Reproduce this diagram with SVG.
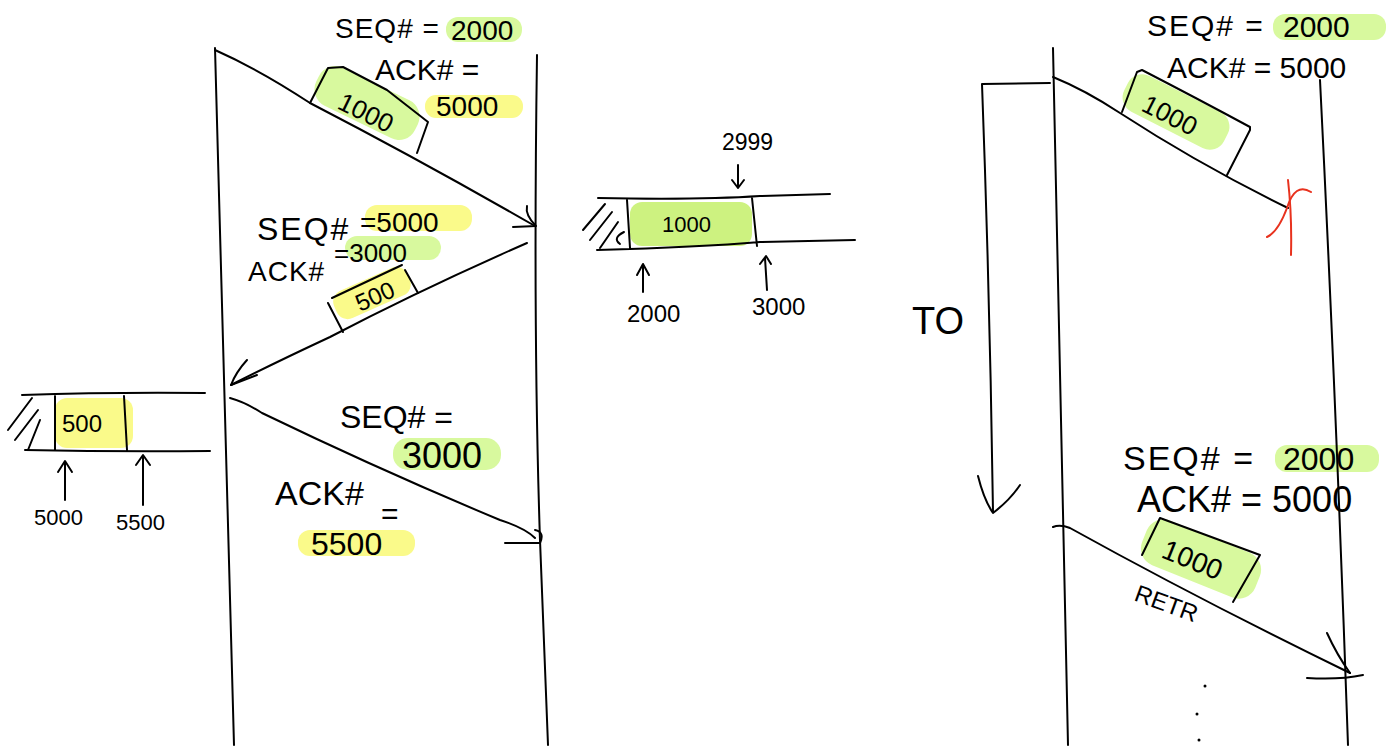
<svg xmlns="http://www.w3.org/2000/svg" width="1393" height="747" viewBox="0 0 1393 747">
<style>
.ln{fill:none;stroke:#000;stroke-width:2;stroke-linecap:round;stroke-linejoin:round}
.red{fill:none;stroke:#e8321e;stroke-width:2;stroke-linecap:round}
.t{font-family:"Liberation Sans",Arial,sans-serif;fill:#000}
.g{fill:#d8f99e}
.gb{fill:#c4f06a;opacity:.85}
.y{fill:#fafa8a}
</style>
<rect width="1393" height="747" fill="#fff"/>

<g id="highlights">
<rect class="g" x="446" y="17" width="76" height="25" rx="12"/>
<rect class="y" x="425" y="95" width="98" height="23" rx="11"/>
<rect class="g" x="312" y="82" width="110" height="42" rx="18" transform="rotate(26 367 103)"/>
<rect class="y" x="365" y="205" width="107" height="26" rx="12"/>
<rect class="g" x="345" y="236" width="96" height="24" rx="12"/>
<rect class="y" x="332" y="278" width="80" height="30" rx="12" transform="rotate(-24 372 293)"/>
<rect class="g" x="393" y="438" width="108" height="32" rx="15"/>
<rect class="y" x="298" y="530" width="117" height="26" rx="12"/>
<rect class="y" x="55" y="398" width="78" height="50" rx="12"/>
<rect class="gb" x="630" y="202" width="122" height="44" rx="12"/>
<rect class="g" x="1273" y="14" width="113" height="26" rx="12"/>
<rect class="g" x="1120" y="92" width="112" height="40" rx="16" transform="rotate(27 1176 112)"/>
<rect class="g" x="1275" y="445" width="104" height="27" rx="12"/>
<rect class="g" x="1140" y="535" width="122" height="48" rx="18" transform="rotate(22 1201 559)"/>
</g>

<g id="left-host-a">
<path class="ln" d="M215 48 Q224 400 234 745"/>
</g>
<g id="left-host-b">
<path class="ln" d="M537 55 Q533 330 540 540 Q544 650 548 745"/>
</g>

<g id="connectors">
<path class="ln" d="M215 50 Q260 70 310 103 Q420 160 535 226"/>
<path class="ln" d="M513 227 L536 226 M536 226 Q525 215 527 206"/>
<path class="ln" d="M527 243 Q420 290 330 337 Q270 365 231 385"/>
<path class="ln" d="M247 360 Q236 372 231 385 L257 375"/>
<path class="ln" d="M230 398 Q245 402 262 413 Q380 470 500 520 Q525 528 535 538"/>
<path class="ln" d="M505 543 L540 543 Q545 532 535 530"/>
<path class="ln" d="M1053 77 Q1085 90 1120 113 Q1200 165 1288 208"/>
<path class="ln" d="M1053 527 Q1060 524 1070 528 Q1200 600 1350 673"/>
<path class="ln" d="M1327 633 Q1337 655 1350 673 M1307 678 Q1340 680 1363 675"/>
<path class="ln" d="M1050 83 L982 84 Q990 300 993 512"/>
<path class="ln" d="M978 476 Q984 500 993 513 Q1010 500 1020 485"/>
</g>

<g id="pkt-1000-a">
<path class="ln" d="M310 103 L328 68 L343 67 L387 90 L428 122 L417 153"/>
<text class="t" font-size="26" transform="translate(336 108) rotate(26)">1000</text>
</g>
<g id="label-seq2000">
<text class="t" font-size="28" x="335" y="38" letter-spacing="1">SEQ# =</text>
<text class="t" font-size="28" x="451" y="40">2000</text>
<text class="t" font-size="30" x="375" y="80">ACK# =</text>
<text class="t" font-size="28" x="436" y="116">5000</text>
</g>

<g id="pkt-500">
<path class="ln" d="M328 303 L343 332 M332 298 L402 265 M405 270 L418 293"/>
<text class="t" font-size="24" transform="translate(360 312) rotate(-24)">500</text>
</g>
<g id="label-seq5000">
<text class="t" font-size="32" x="257" y="240" letter-spacing="2">SEQ#</text>
<text class="t" font-size="28" x="360" y="232">=5000</text>
<text class="t" font-size="28" x="248" y="281" letter-spacing="1">ACK#</text>
<text class="t" font-size="26" x="334" y="262">=3000</text>
</g>

<g id="label-seq3000">
<text class="t" font-size="32" x="340" y="428">SEQ# =</text>
<text class="t" font-size="36" x="402" y="468">3000</text>
<text class="t" font-size="34" x="275" y="505">ACK#</text>
<text class="t" font-size="30" x="381" y="524">=</text>
<text class="t" font-size="32" x="311" y="555">5500</text>
</g>

<g id="buffer-left">
<path class="ln" d="M22 395 Q110 392 205 393 M25 450 Q120 452 210 451 M55 396 L55 450 M124 396 L127 450"/>
<path class="ln" d="M8 430 L32 398 M15 440 L38 410 M28 450 L40 420"/>
<text class="t" font-size="24" x="62" y="432">500</text>
<path class="ln" d="M65 500 L65 462 M58 472 L65 461 L72 472"/>
<path class="ln" d="M143 505 L143 456 M136 465 L143 455 L150 465"/>
<text class="t" font-size="22" x="34" y="525">5000</text>
<text class="t" font-size="22" x="116" y="530">5500</text>
</g>

<g id="buffer-middle">
<path class="ln" d="M598 198 Q700 200 760 196 L830 194 M597 250 Q700 247 760 242 L855 240 M627 200 L630 248 M752 198 L757 246"/>
<path class="ln" d="M583 230 L605 204 M590 240 L612 212 M600 248 L618 222 M620 244 Q612 238 624 232"/>
<text class="t" font-size="22" x="662" y="232">1000</text>
<text class="t" font-size="23" x="722" y="150">2999</text>
<path class="ln" d="M738 165 L738 188 M732 180 L738 188 L744 180"/>
<path class="ln" d="M643 292 L643 265 M637 275 L643 264 L649 275"/>
<path class="ln" d="M767 290 L765 258 M760 264 L766 256 L771 264"/>
<text class="t" font-size="24" x="627" y="322">2000</text>
<text class="t" font-size="24" x="752" y="315">3000</text>
</g>

<g id="label-to">
<text class="t" font-size="38" x="912" y="334">TO</text>
</g>

<g id="right-host-a">
<path class="ln" d="M1053 48 Q1060 400 1068 745"/>
</g>
<g id="right-host-b">
<path class="ln" d="M1320 80 Q1336 400 1348 745"/>
</g>
<g id="lost-mark">
<path class="red" d="M1288 180 Q1292 215 1291 255"/>
<path class="red" d="M1311 192 Q1295 182 1287 208 Q1278 232 1267 237"/>
</g>
<g id="pkt-1000-lost">
<path class="ln" d="M1122 112 L1137 72 L1142 70 Q1200 100 1250 127 L1250 130 L1227 175"/>
<text class="t" font-size="26" transform="translate(1140 110) rotate(27)">1000</text>
</g>
<g id="label-right-top">
<text class="t" font-size="30" x="1147" y="36" letter-spacing="2">SEQ# =</text>
<text class="t" font-size="30" x="1283" y="37">2000</text>
<text class="t" font-size="30" x="1167" y="78">ACK# = 5000</text>
</g>
<g id="label-right-bottom">
<text class="t" font-size="34" x="1123" y="470" letter-spacing="2">SEQ# =</text>
<text class="t" font-size="32" x="1283" y="470">2000</text>
<text class="t" font-size="36" x="1137" y="512">ACK# = 5000</text>
</g>
<g id="pkt-1000-retr">
<path class="ln" d="M1142 555 L1160 518 L1260 555 L1233 602"/>
<text class="t" font-size="28" transform="translate(1160 557) rotate(22)">1000</text>
<text class="t" font-size="24" transform="translate(1133 600) rotate(20)">RETR</text>
</g>
<g id="dots">
<circle cx="1205" cy="686" r="1.5"/>
<circle cx="1197" cy="714" r="1.5"/>
<circle cx="1199" cy="740" r="1.5"/>
</g>
</svg>
